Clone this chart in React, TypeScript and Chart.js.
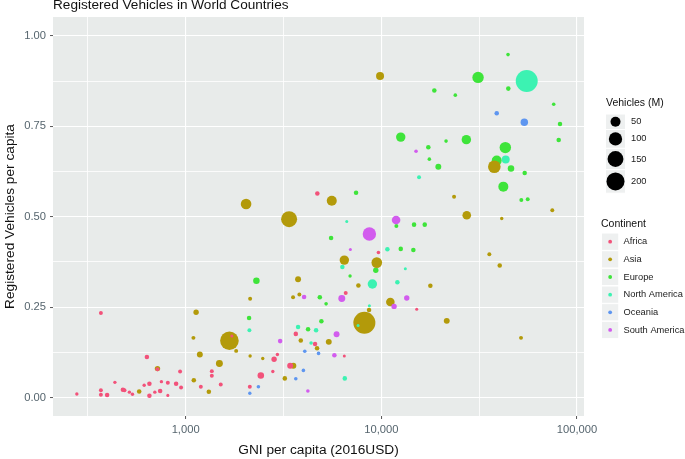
import React, { useEffect, useRef } from 'react';
import { Chart, registerables } from 'chart.js';

Chart.register(...registerables);

const FONT = "'Liberation Sans', Arial, sans-serif";
const TITLE = 'Registered Vehicles in World Countries';
const X_TITLE = 'GNI per capita (2016USD)';
const Y_TITLE = 'Registered Vehicles per capita';

const continents = ['Africa', 'Asia', 'Europe', 'North America', 'Oceania', 'South America'];
const continentColors = ['#F2527A', '#B39A0A', '#3EE43A', '#3CF2B2', '#5E96F0', '#D25CEE'];
// lower = drawn on top
const drawOrder = [0, 4, 5, 1, 3, 2];

const sizeBreaks = [50, 100, 150, 200];
const xGridExponents = [2.5, 3, 3.5, 4, 4.5, 5];
const yGridValues = [0, 0.125, 0.25, 0.375, 0.5, 0.625, 0.75, 0.875, 1];

// [GNI per capita (2016 USD), registered vehicles per capita, vehicles (millions)]
const africa: [number, number, number][] = [
  [278, 0.010, 1.5], [369, 0.020, 3], [369, 0.008, 3], [397, 0.007, 5], [435, 0.042, 1.5],
  [478, 0.0215, 5], [487, 0.020, 3], [516, 0.015, 1.5], [535, 0.009, 1.5], [614, 0.034, 1.5],
  [653, 0.038, 5], [653, 0.005, 5], [696, 0.015, 1.5], [634, 0.112, 5], [718, 0.078, 3],
  [741, 0.018, 5], [752, 0.044, 1.5], [811, 0.041, 3], [811, 0.006, 0.8], [894, 0.038, 5],
  [948, 0.028, 3], [937, 0.072, 3], [1196, 0.030, 3], [1361, 0.073, 3], [1361, 0.060, 3],
  [1512, 0.036, 3], [1722, 0.170, 0.8], [2128, 0.030, 3], [2422, 0.061, 16], [2790, 0.072, 1.5],
  [2944, 0.119, 1.5], [2832, 0.106, 9], [3421, 0.088, 12], [3656, 0.176, 5], [4587, 0.148, 5],
  [6472, 0.115, 0.8], [6577, 0.289, 3], [4710, 0.564, 5], [9667, 0.401, 2], [15170, 0.244, 0.8],
  [369, 0.234, 3],
];

const asia: [number, number, number][] = [
  [579, 0.017, 5], [718, 0.080, 9], [1101, 0.048, 5], [1314, 0.016, 5], [1182, 0.119, 12],
  [1488, 0.094, 19], [1674, 0.157, 215], [1812, 0.129, 3], [1096, 0.165, 3], [1131, 0.236, 9],
  [2136, 0.115, 1.5], [2478, 0.108, 1.5], [2136, 0.273, 3], [3213, 0.053, 5], [3553, 0.088, 12],
  [2037, 0.535, 58], [3379, 0.493, 153], [3755, 0.327, 12], [3814, 0.285, 3], [3540, 0.277, 3],
  [3877, 0.158, 5], [4696, 0.136, 5], [5389, 0.154, 12], [5583, 0.544, 50], [6472, 0.380, 43],
  [9480, 0.373, 58], [7636, 0.310, 5], [8658, 0.242, 5], [8193, 0.207, 312], [9854, 0.889, 28],
  [11122, 0.264, 34], [17810, 0.309, 5], [21600, 0.212, 12], [23540, 0.555, 3], [27330, 0.504, 34],
  [41240, 0.495, 1.5], [37800, 0.638, 88], [35650, 0.396, 3], [40290, 0.365, 5], [51760, 0.165, 3],
  [74780, 0.518, 3],
];

const europe: [number, number, number][] = [
  [2300, 0.323, 16], [2110, 0.220, 5], [4849, 0.277, 5], [5222, 0.259, 2], [4940, 0.211, 5],
  [4224, 0.189, 5], [5538, 0.441, 5], [7430, 0.566, 5], [9369, 0.352, 9], [6924, 0.336, 1.5],
  [11940, 0.474, 3], [14700, 0.478, 5], [16670, 0.478, 5], [12570, 0.411, 5], [14580, 0.408, 5],
  [17600, 0.659, 2], [19560, 0.638, 12], [17390, 0.692, 5], [12570, 0.720, 43], [21420, 0.709, 2],
  [27200, 0.713, 43], [18660, 0.849, 5], [23890, 0.836, 2], [31220, 0.885, 69], [44420, 0.948, 2],
  [44570, 0.854, 5], [76030, 0.811, 2], [81890, 0.756, 5], [80650, 0.712, 5], [43030, 0.691, 69],
  [38890, 0.655, 50], [46000, 0.633, 16], [54050, 0.621, 5], [42030, 0.583, 50], [51940, 0.546, 3],
  [56000, 0.548, 3],
];

const northAmerica: [number, number, number][] = [
  [2118, 0.186, 3], [3755, 0.195, 5], [4642, 0.186, 5], [4377, 0.151, 2], [6507, 0.053, 5],
  [7608, 0.199, 0.8], [8690, 0.254, 0.8], [9003, 0.314, 43], [6324, 0.361, 5], [6660, 0.487, 0.8],
  [10740, 0.410, 5], [12080, 0.319, 5], [13270, 0.356, 0.8], [15590, 0.609, 3], [43230, 0.658, 28],
  [55350, 0.875, 312],
];

const oceania: [number, number, number][] = [
  [2354, 0.030, 2], [2128, 0.012, 1.5], [3656, 0.052, 2], [3998, 0.075, 2], [4064, 0.128, 2],
  [4779, 0.122, 2], [38890, 0.786, 5], [53800, 0.761, 23],
];

const southAmerica: [number, number, number][] = [
  [3040, 0.156, 5], [4031, 0.278, 5], [6281, 0.274, 19], [5907, 0.175, 12], [5757, 0.117, 5],
  [4214, 0.018, 2], [6948, 0.409, 0.8], [8690, 0.452, 101], [11900, 0.491, 34], [13490, 0.275, 9],
  [11620, 0.252, 9], [15050, 0.681, 2],
];

const seriesList = [africa, asia, europe, northAmerica, oceania, southAmerica];

const rOf = (v: number) => 1 + 0.566 * Math.sqrt(v);
const isMajorX = (v: number) => v != null && Math.abs(Math.log10(v) - Math.round(Math.log10(v))) < 1e-6;
const isMajorY = (v: number) => v != null && Math.abs(v * 4 - Math.round(v * 4)) < 1e-6;

const TICK_TEXT = '#56656e';
const TICK_MARK = '#555555';

const bgPlugin = {
  id: 'panelBg',
  beforeDraw(chart: any) {
    const { ctx, chartArea: a } = chart;
    ctx.save();
    ctx.fillStyle = '#ffffff';
    ctx.fillRect(0, 0, chart.width, chart.height);
    ctx.fillStyle = '#E8EBEA';
    ctx.fillRect(a.left, a.top, a.right - a.left, a.bottom - a.top);
    ctx.restore();
  },
};

const overlayPlugin = {
  id: 'overlay',
  afterDraw(chart: any) {
    const { ctx, chartArea: a } = chart;
    ctx.save();
    // Title
    ctx.fillStyle = '#111111';
    ctx.font = `13.6px ${FONT}`;
    ctx.textAlign = 'left';
    ctx.textBaseline = 'alphabetic';
    ctx.fillText(TITLE, a.left, 9);

    // Size legend
    ctx.font = `10.5px ${FONT}`;
    ctx.fillText('Vehicles (M)', 606, 106);
    let y = 114;
    const boxL = 605.5;
    const boxW = 20;
    sizeBreaks.forEach((b) => {
      const r = rOf(b);
      const h = Math.max(15, 2 * r + 5.5);
      ctx.fillStyle = '#EEF0F0';
      ctx.fillRect(boxL, y, boxW, h);
      ctx.strokeStyle = '#ffffff';
      ctx.lineWidth = 1;
      ctx.strokeRect(boxL, y, boxW, h);
      ctx.fillStyle = '#000000';
      ctx.beginPath();
      ctx.arc(boxL + boxW / 2, y + h / 2, r, 0, Math.PI * 2);
      ctx.fill();
      ctx.fillStyle = '#1a1a1a';
      ctx.font = `9.3px ${FONT}`;
      ctx.textBaseline = 'middle';
      ctx.fillText(String(b), 631, y + h / 2);
      ctx.textBaseline = 'alphabetic';
      y += h;
    });

    // Continent legend
    ctx.fillStyle = '#111111';
    ctx.font = `10.5px ${FONT}`;
    ctx.fillText('Continent', 601, 227);
    const step = 17.65;
    const cBoxL = 601.5;
    const cBox = 17.3;
    continents.forEach((c, i) => {
      const cy = 241.7 + i * step;
      ctx.fillStyle = '#EEF0F0';
      ctx.fillRect(cBoxL, cy - cBox / 2, cBox, cBox);
      ctx.strokeStyle = '#ffffff';
      ctx.strokeRect(cBoxL, cy - cBox / 2, cBox, cBox);
      ctx.fillStyle = continentColors[i];
      ctx.beginPath();
      ctx.arc(cBoxL + cBox / 2, cy, 1.9, 0, Math.PI * 2);
      ctx.fill();
      ctx.fillStyle = '#1a1a1a';
      ctx.font = `9.3px ${FONT}`;
      ctx.textBaseline = 'middle';
      ctx.fillText(c, 623.5, cy);
      ctx.textBaseline = 'alphabetic';
    });
    ctx.restore();
  },
};

export default function App() {
  const ref = useRef<HTMLCanvasElement>(null);

  useEffect(() => {
    const canvas = ref.current;
    if (!canvas) return;
    Chart.defaults.font.family = FONT;
    const chart = new Chart(canvas, {
      type: 'bubble',
      data: {
        datasets: seriesList.map((s, i) => ({
          label: continents[i],
          data: s.map(([x, y, v]) => ({ x, y, r: rOf(v) })),
          backgroundColor: continentColors[i],
          borderWidth: 0,
          hoverBorderWidth: 0,
          order: drawOrder[i],
        })),
      },
      options: {
        animation: false,
        responsive: false,
        devicePixelRatio: 1,
        events: [],
        layout: { padding: { left: 0, right: 101, top: 17, bottom: 0 } },
        plugins: {
          legend: { display: false },
          tooltip: { enabled: false },
          title: { display: false },
        },
        scales: {
          x: {
            type: 'logarithmic',
            position: 'bottom',
            bounds: 'data',
            min: 210,
            max: 108600,
            afterBuildTicks: (s: any) => {
              s.ticks = xGridExponents.map((e) => ({ value: Math.pow(10, e) }));
            },
            afterFit: (s: any) => {
              s.height = 43;
            },
            border: { display: false },
            grid: {
              color: '#ffffff',
              lineWidth: (c: any) => (c.tick && isMajorX(c.tick.value) ? 1.1 : 0.8),
              tickLength: 3,
              tickColor: (c: any) => (c.tick && isMajorX(c.tick.value) ? TICK_MARK : 'rgba(0,0,0,0)'),
              tickWidth: 1,
            },
            ticks: {
              autoSkip: false,
              maxRotation: 0,
              minRotation: 0,
              padding: 4,
              color: TICK_TEXT,
              font: { size: 11.2, family: FONT },
              callback: (v: any) => (isMajorX(Number(v)) ? Number(v).toLocaleString('en-US') : ''),
            },
            title: {
              display: true,
              text: X_TITLE,
              color: '#111111',
              font: { size: 13.7, family: FONT },
              padding: { top: 0, bottom: 0.3 },
            },
          },
          y: {
            type: 'linear',
            bounds: 'data',
            min: -0.051,
            max: 1.052,
            afterBuildTicks: (s: any) => {
              s.ticks = yGridValues.map((v) => ({ value: v }));
            },
            afterFit: (s: any) => {
              s.width = 53;
            },
            border: { display: false },
            grid: {
              color: '#ffffff',
              lineWidth: (c: any) => (c.tick && isMajorY(c.tick.value) ? 1.1 : 0.8),
              tickLength: 3,
              tickColor: (c: any) => (c.tick && isMajorY(c.tick.value) ? TICK_MARK : 'rgba(0,0,0,0)'),
              tickWidth: 1,
            },
            ticks: {
              autoSkip: false,
              padding: 4,
              color: TICK_TEXT,
              font: { size: 11.2, family: FONT },
              callback: (v: any) => (isMajorY(Number(v)) ? Number(v).toFixed(2) : ''),
            },
            title: {
              display: true,
              text: Y_TITLE,
              color: '#111111',
              font: { size: 13.7, family: FONT },
              padding: { top: 2, bottom: 0 },
            },
          },
        },
      } as any,
      plugins: [bgPlugin, overlayPlugin],
    });
    return () => chart.destroy();
  }, []);

  return (
    <div style={{ position: 'fixed', left: 0, top: 0, width: 685, height: 459, background: '#ffffff' }}>
      <canvas ref={ref} width={685} height={459} style={{ display: 'block', width: 685, height: 459 }} />
    </div>
  );
}
